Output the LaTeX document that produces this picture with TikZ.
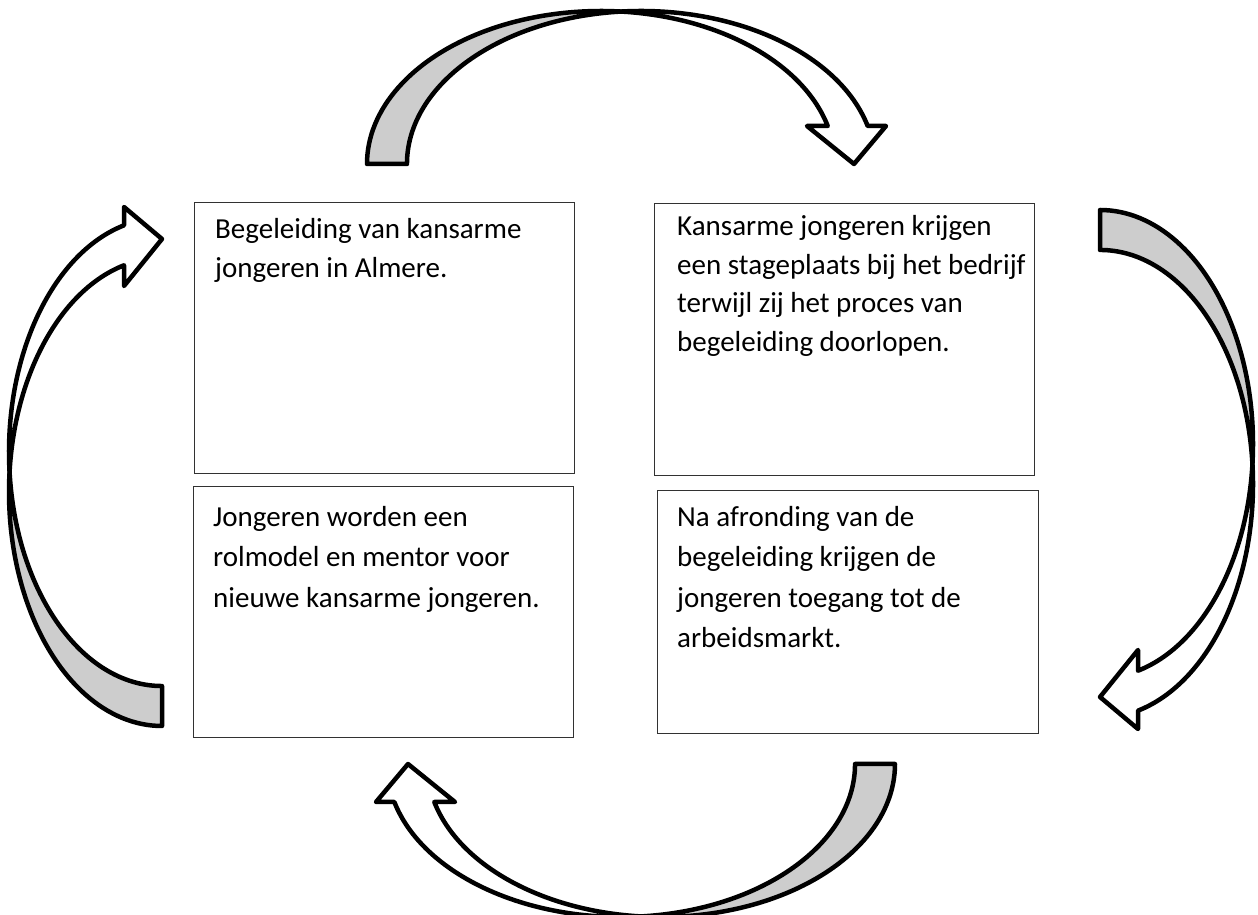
\documentclass[tikz,border=0pt]{standalone}
\usepackage{fontspec}
\setmainfont{Carlito}
\definecolor{backgray}{RGB}{205,205,205}
\definecolor{boxline}{RGB}{50,50,50}
\begin{document}
\begin{tikzpicture}[x=1pt,y=1pt,
  box/.style={draw=boxline, line width=1.3pt, inner sep=0pt, anchor=north west, rectangle},
  txt/.style={anchor=north west, inner sep=0pt, align=left, font=\fontsize{29}{38.7}\selectfont},
  txtlow/.style={txt, font=\fontsize{29}{40.5}\selectfont},
  arrowback/.style={fill=backgray, draw=black, line width=4.5pt, line join=round},
  arrowfront/.style={fill=white, draw=black, line width=4.5pt, line join=round},
  curvedarrow/.pic={
    \path[arrowback] (0,0) arc[start angle=180,end angle=85.1,x radius=234,y radius=153]
       arc[start angle=94.9,end angle=180,x radius=234,y radius=153] -- cycle;
    \path[arrowfront] (254,152.44) arc[start angle=94.9,end angle=14.38,x radius=234,y radius=153]
       -- (519,38) -- (487,0) -- (440,38) -- (460.7,38)
       arc[start angle=14.38,end angle=85.1,x radius=234,y radius=153] -- cycle;
  }]
\useasboundingbox (0,0) rectangle (1258,915);

% boxes (y = 915 - image y)
\node[box, minimum width=380pt, minimum height=271pt] (b1) at (194,713) {};
\node[box, minimum width=380pt, minimum height=272pt] (b2) at (654,712) {};
\node[box, minimum width=380pt, minimum height=251pt] (b3) at (193,429) {};
\node[box, minimum width=381pt, minimum height=243pt] (b4) at (657,425) {};

% texts
\node[txt] (t1) at ([shift={(21pt,-16pt)}]b1.north west) {Begeleiding van kansarme\\jongeren in Almere.};
\node[txt] (t2) at ([shift={(23pt,-12pt)}]b2.north west) {Kansarme jongeren krijgen\\een stageplaats bij het bedrijf\\terwijl zij het proces van\\begeleiding doorlopen.};
\node[txtlow] (t3) at ([shift={(20pt,-20pt)}]b3.north west) {Jongeren worden een\\rolmodel en mentor voor\\nieuwe kansarme jongeren.};
\node[txtlow] (t4) at ([shift={(20pt,-16pt)}]b4.north west) {Na afronding van de\\begeleiding krijgen de\\jongeren toegang tot de\\arbeidsmarkt.};

% curved arrows
\pic at (367,751) {curvedarrow};
\pic[rotate=-90] at (1100,705) {curvedarrow};
\pic[rotate=180] at (895,151) {curvedarrow};
\pic[rotate=90] at (162,189) {curvedarrow};
\end{tikzpicture}
\end{document}
